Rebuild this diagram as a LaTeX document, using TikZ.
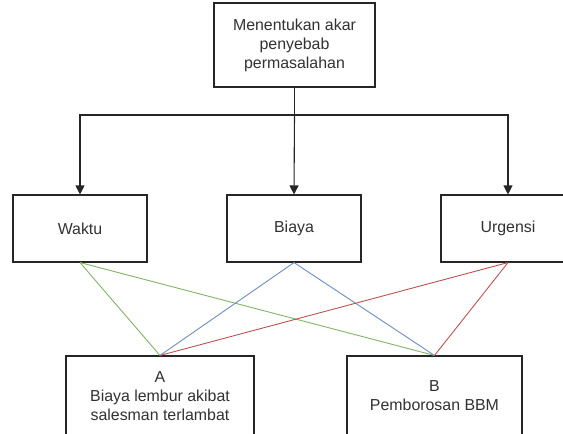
\documentclass[tikz,border=0pt]{standalone}
\usepackage{fontspec}
\setmainfont{Liberation Sans}
\usetikzlibrary{arrows.meta}
\definecolor{txtgray}{RGB}{50,50,50}
\definecolor{lgreen}{HTML}{82B366}
\definecolor{lblue}{HTML}{6C8EBF}
\definecolor{lred}{HTML}{B85450}
\begin{document}
\begin{tikzpicture}[
  x=1pt, y=-1pt,
  font=\fontsize{15.9}{19}\selectfont,
  box/.style={draw=black!85, line width=1.1pt, fill=white, text=txtgray,
    align=center, inner sep=0pt},
  arr/.style={draw=black!85, line width=1.1pt, -{Triangle[width=9pt,length=9pt]}},
  link/.style={line width=0.9pt}
]
\useasboundingbox (0,0) rectangle (563,434);
\clip (0,0) rectangle (563,434);

% Root cause
\node[box, minimum width=161pt, minimum height=84pt] (akar) at (294.5,45)
  {Menentukan akar\\penyebab\\permasalahan};

% Criteria
\node[box, minimum width=134pt, minimum height=67pt] (waktu) at (80,228.5) {Waktu};
\node[box, minimum width=134pt, minimum height=67pt] (biaya) at (294,228.5) {Biaya};
\node[box, minimum width=134pt, minimum height=67pt] (urgensi) at (508,228.5) {Urgensi};

% Alternatives
\node[box, minimum width=188pt, minimum height=80pt] (altA) at (160,396)
  {A\\Biaya lembur akibat\\salesman terlambat};
\node[box, minimum width=175pt, minimum height=80pt] (altB) at (434.5,396)
  {B\\Pemborosan BBM};

% Tree connectors
\coordinate (split) at (akar.south |- 0,115);
\draw[draw=black!85, line width=1.1pt] (akar.south) -- (split);
\draw[arr] (split) -| (waktu.north);
\draw[arr] (split) -- (biaya.north);
\draw[arr] (split) -| (urgensi.north);

% Criteria to alternatives
\draw[link, lgreen] (waktu.south) -- (altA.north);
\draw[link, lgreen] (waktu.south) -- (altB.north);
\draw[link, lblue] (biaya.south) -- (altA.north);
\draw[link, lblue] (biaya.south) -- (altB.north);
\draw[link, lred] (urgensi.south) -- (altA.north);
\draw[link, lred] (urgensi.south) -- (altB.north);

\end{tikzpicture}
\end{document}
